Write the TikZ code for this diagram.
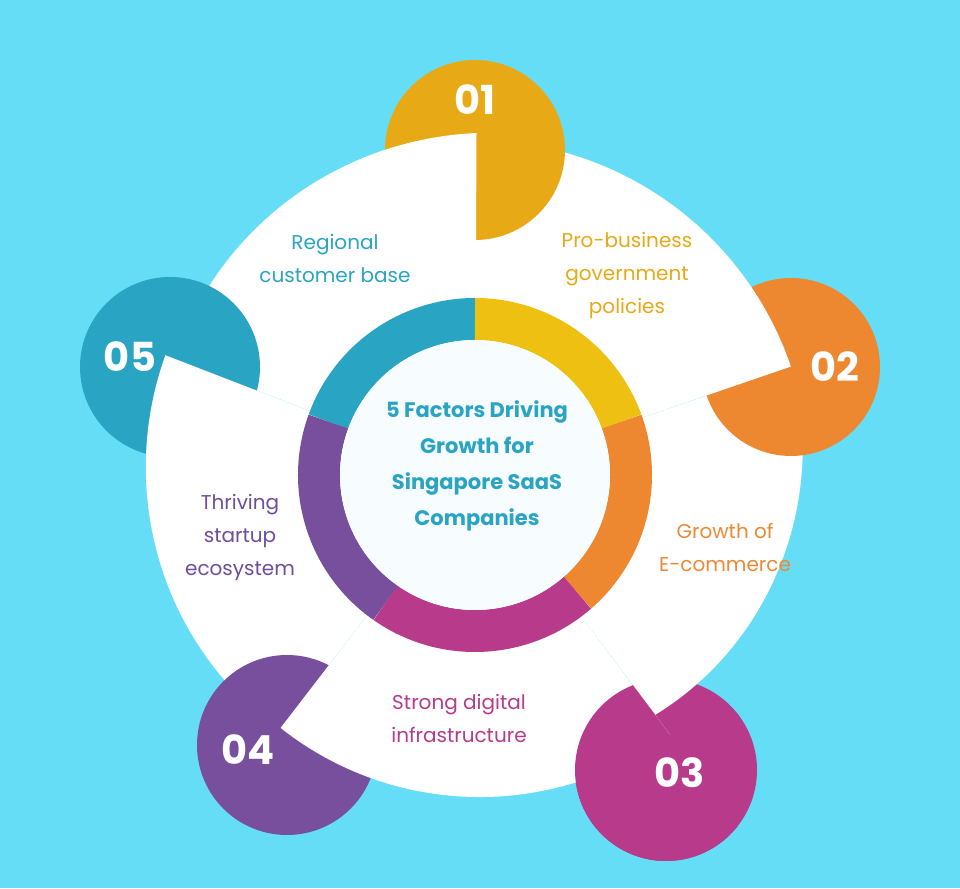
\documentclass[tikz,border=0pt]{standalone}
\usepackage{fontspec}
\setmainfont{Poppins}
\definecolor{bg}{HTML}{66DDF7}
\definecolor{cyel}{HTML}{E8A917}
\definecolor{ryel}{HTML}{EDC011}
\definecolor{corg}{HTML}{EE8830}
\definecolor{cmag}{HTML}{B83A8A}
\definecolor{cpur}{HTML}{774F9C}
\definecolor{ctea}{HTML}{2AA4C3}
\definecolor{lorg}{HTML}{EA8A35}
\definecolor{lpur}{HTML}{6E4E9A}
\definecolor{inner}{HTML}{F7FCFE}
\newcommand{\mysector}[4]{%
  \fill[white] (O) -- plot[domain=0:1,samples=60]
   ({475+(#3+(#4-#3)*\x)*cos(#1+(#2-#1)*\x)},{413+(#3+(#4-#3)*\x)*sin(#1+(#2-#1)*\x)}) -- cycle;}
\tikzset{
  num/.style={text=white,font=\fontsize{40}{40}\selectfont\bfseries},
  lab/.style={align=center,font=\fontsize{20}{33}\selectfont},
  ring/.style={line width=42pt},
}
\begin{document}
\begin{tikzpicture}[x=1pt,y=1pt]
\useasboundingbox (0,0) rectangle (960,888);
\fill[bg] (0,0) rectangle (960,888);
\coordinate (O) at (475,413);
\coordinate (c1) at (475,738);
\coordinate (c2) at (791,521);
\coordinate (c3) at (666,118);
\coordinate (c4) at (287,143);
\coordinate (c5) at (170,521);
% layering
\fill[cmag] (c3) circle (91);
\mysector{18.9}{-53.1}{336}{300}
\fill[corg] (c2) circle (89);
\mysector{89.7}{18.9}{335}{334}
\fill[cyel] (c1) circle (90);
\mysector{158.8}{89.7}{322}{342}
\fill[ctea] (c5) circle (90);
\mysector{-127.6}{-201.2}{322}{332}
\fill[cpur] (c4) circle (90);
\mysector{-53.1}{-127.6}{325}{319}
\begin{scope}
\clip (O) -- ++(-53.1:600) -- ++(-150:600) -- (O) -- ++(-160:600) -- cycle;
\fill[cmag] (c3) circle (91);
\end{scope}
\begin{scope}
\clip (O) -- (-53.1:600 |- 0,-400) -- (-400,-400) -- cycle;
\end{scope}
% ring
\draw[ring,ctea] ([shift={(160:156)}]O) arc[start angle=160,end angle=90,radius=156];
\draw[ring,ryel] ([shift={(90:156)}]O) arc[start angle=90,end angle=20,radius=156];
\draw[ring,corg] ([shift={(20:156)}]O) arc[start angle=20,end angle=-49,radius=156];
\draw[ring,cmag] ([shift={(-49:156)}]O) arc[start angle=-49,end angle=-125,radius=156];
\draw[ring,cpur] ([shift={(-125:156)}]O) arc[start angle=-125,end angle=-200,radius=156];
\fill[inner] (O) circle (135);
\node[align=center,text=ctea,font=\fontsize{21}{36}\selectfont\bfseries] (title) at (477,422)
 {5 Factors Driving\\Growth for\\Singapore SaaS\\Companies};
% numbers
\node[num] (n1) at (475,788) {01};
\node[num] (n2) at (835,521) {02};
\node[num] (n3) at (680,115) {03};
\node[num] (n4) at (248,138) {04};
\node[num] (n5) at (130,531) {05};
% labels
\node[lab,text=ctea] (l5) at (335,630) {Regional\\customer base};
\node[lab,text=cyel] (l1) at (627,613) {Pro-business\\government\\policies};
\node[lab,text=lorg] (l2) at (725,341) {Growth of\\E-commerce};
\node[lab,text=cmag] (l3) at (459,170) {Strong digital\\infrastructure};
\node[lab,text=lpur] (l4) at (240,351) {Thriving\\startup\\ecosystem};
\end{tikzpicture}
\end{document}
